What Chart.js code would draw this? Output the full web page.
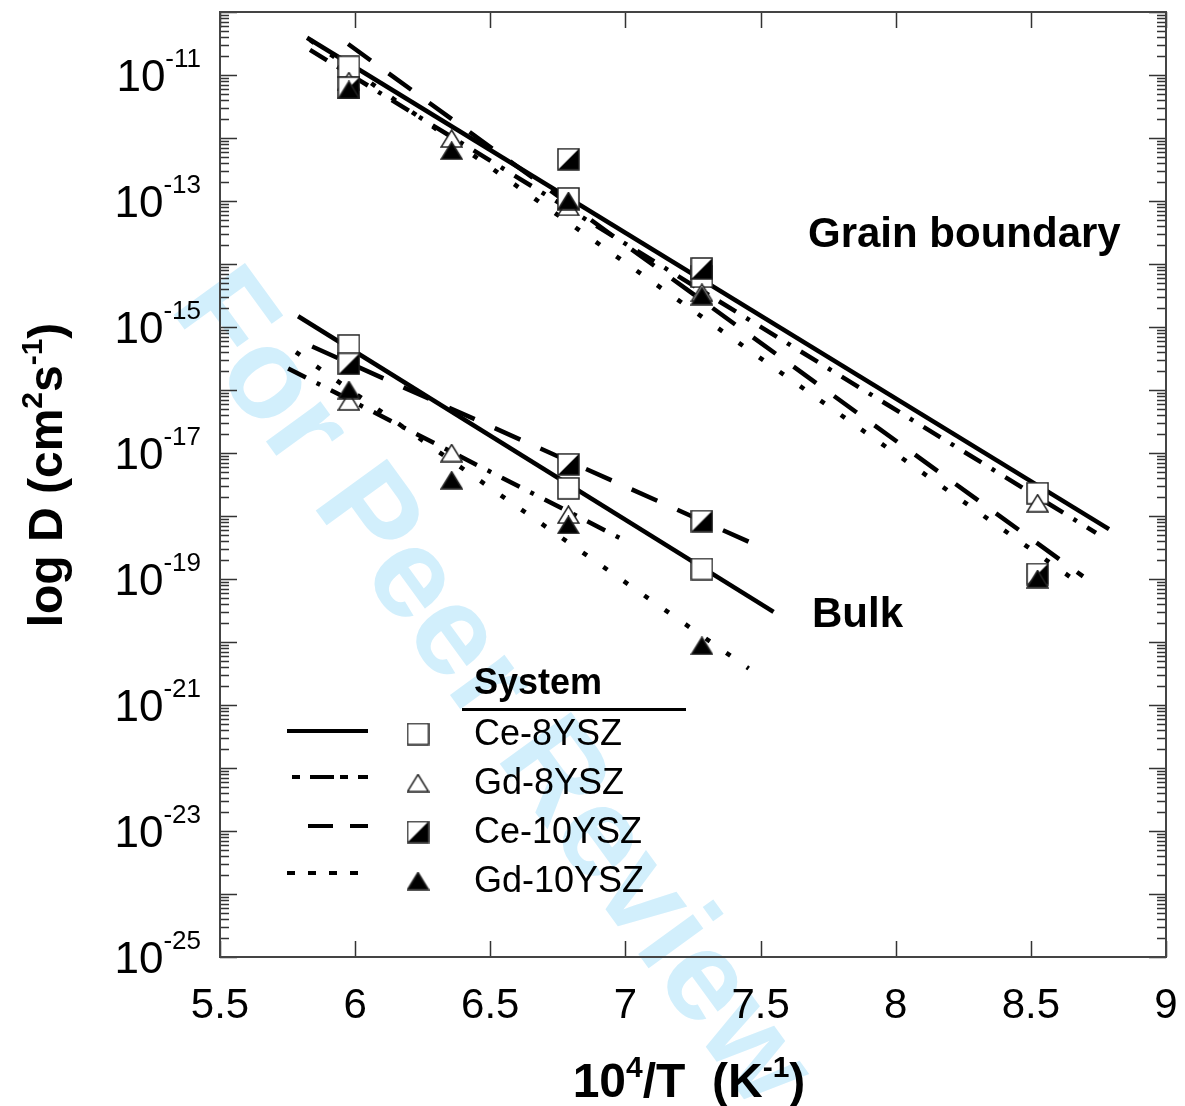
<!DOCTYPE html>
<html>
<head>
<meta charset="utf-8">
<script src="https://cdn.jsdelivr.net/npm/chart.js@4.4.1/dist/chart.umd.min.js"></script>
<style>
  html, body { margin: 0; padding: 0; background: #fff; }
  #wrap { width: 1185px; height: 1106px; }
</style>
</head>
<body>
<div id="wrap"><canvas id="diffChart" width="1185" height="1106"></canvas></div>
<script>
// 10^4/T of the annealing temperatures
const invT = [5.977, 6.357, 6.789, 7.283, 8.525];

// grain boundary diffusion coefficients, cm2/s (null = no point)
const gbCe8 = [1.35e-11, null, 1.1e-13, 6.3e-15, 2.3e-18];
const gbGd8 = [8e-12, 9.8e-13, 8.1e-14, 3.5e-15, 1.6e-18];
const gbCe10 = [6.3e-12, null, 4.6e-13, 8.5e-15, 1.2e-19];
const gbGd10 = [5.8e-12, 6.3e-13, 1.0e-13, 3.1e-15, 1.0e-19];

// bulk diffusion coefficients
const bulkCe8 = [5.1e-16, null, 2.75e-18, 1.44e-19, null];
const bulkGd8 = [6.6e-17, 1.0e-17, 1.05e-18, null, null];
const bulkCe10 = [2.6e-16, null, 6.6e-18, 8.3e-19, null];
const bulkGd10 = [1.0e-16, 3.7e-18, 7.2e-19, 8.7e-21, null];

// fitted lines (start / end)
const gbFitCe8X = [5.822, 8.789], gbFitCe8Y = [3.9e-11, 6.2e-19];
const gbFitGd8X = [5.833, 8.741], gbFitGd8Y = [2.5e-11, 5.4e-19];
const gbFitCe10X = [5.974, 8.693], gbFitCe10Y = [3.1e-11, 1.1e-19];
const gbFitGd10X = [5.833, 8.659], gbFitGd10Y = [3.6e-11, 9.8e-20];
const bulkFitCe8X = [5.789, 7.548], bulkFitCe8Y = [1.48e-15, 3.0e-20];
const bulkFitGd8X = [5.752, 7.007], bulkFitGd8Y = [2.2e-16, 3.9e-19];
const bulkFitCe10X = [5.841, 7.481], bulkFitCe10Y = [4.9e-16, 3.5e-19];
const bulkFitGd10X = [5.781, 7.456], bulkFitGd10Y = [4.0e-16, 3.8e-21];

const xTicks = [5.5, 6, 6.5, 7, 7.5, 8, 8.5, 9];
const yLabelExps = [-11, -13, -15, -17, -19, -21, -23, -25];

const seriesNames = ['Ce-8YSZ', 'Gd-8YSZ', 'Ce-10YSZ', 'Gd-10YSZ'];

const FONT = '"Liberation Sans", Arial, Helvetica, sans-serif';
const DASH = {
    solid: [],
    dashDot: [20, 12, 4, 12],
    dashed: [28, 22],
    dotted: [5, 20]
};

const pts = (xs, ys) => xs.map((x, i) => ({ x: x, y: ys[i] })).filter(p => p.y != null);

// marker images
function makeMarker(kind) {
    const c = document.createElement('canvas');
    c.width = 23;
    c.height = kind.indexOf('tri') === 0 ? 19 : 23;
    const g = c.getContext('2d');
    g.lineWidth = 1.5;
    g.strokeStyle = '#222';
    if (kind === 'square' || kind === 'half') {
        g.fillStyle = '#fff';
        g.fillRect(1, 1, 21, 21);
        if (kind === 'half') {
            g.fillStyle = '#000';
            g.beginPath();
            g.moveTo(22, 1);
            g.lineTo(22, 22);
            g.lineTo(1, 22);
            g.closePath();
            g.fill();
        }
        g.strokeRect(1, 1, 21, 21);
    } else {
        g.beginPath();
        g.moveTo(11.5, 1);
        g.lineTo(22, 18);
        g.lineTo(1, 18);
        g.closePath();
        g.fillStyle = kind === 'triFilled' ? '#000' : '#fff';
        g.fill();
        g.stroke();
    }
    return c;
}
const markers = [makeMarker('square'), makeMarker('triOpen'), makeMarker('half'), makeMarker('triFilled')];

function fitLine(xs, ys, dash) {
    return {
        type: 'line',
        data: pts(xs, ys),
        borderColor: '#000',
        borderWidth: 4.5,
        borderDash: dash,
        borderCapStyle: 'butt',
        pointRadius: 0,
        fill: false,
        tension: 0,
        order: 10
    };
}

function markerSet(i, gb, bulk) {
    return {
        type: 'scatter',
        label: seriesNames[i],
        data: pts(invT, gb).concat(pts(invT, bulk)),
        pointStyle: markers[i],
        pointRadius: 11,
        order: 4 - i
    };
}

// text with superscripts: parts = [[text, size, raise]]
function drawParts(ctx, parts, x, y, align, bold) {
    const w = parts.reduce((s, p) => {
        ctx.font = (bold ? 'bold ' : '') + p[1] + 'px ' + FONT;
        return s + ctx.measureText(p[0]).width;
    }, 0);
    let cx = align === 'right' ? x - w : align === 'center' ? x - w / 2 : x;
    ctx.textAlign = 'left';
    ctx.textBaseline = 'alphabetic';
    parts.forEach(p => {
        ctx.font = (bold ? 'bold ' : '') + p[1] + 'px ' + FONT;
        ctx.fillText(p[0], cx, y - p[2]);
        cx += ctx.measureText(p[0]).width;
    });
}

const watermark = {
    id: 'watermark',
    beforeDraw(chart) {
        const ctx = chart.ctx;
        ctx.save();
        ctx.translate(490, 690);
        ctx.rotate(54 * Math.PI / 180);
        ctx.font = 'bold 128px ' + FONT;
        ctx.fillStyle = 'rgb(210, 239, 252)';
        ctx.textAlign = 'center';
        ctx.textBaseline = 'middle';
        ctx.fillText('For Peer Review', 0, 0);
        ctx.restore();
    }
};

const axesDecor = {
    id: 'axesDecor',
    afterDraw(chart) {
        const ctx = chart.ctx;
        const a = chart.chartArea;
        const xs = chart.scales.x;
        const ys = chart.scales.y;
        ctx.save();

        // inward ticks on all four sides
        ctx.strokeStyle = '#333';
        ctx.lineWidth = 1.5;
        ctx.beginPath();
        xTicks.forEach(v => {
            const px = Math.round(xs.getPixelForValue(v)) + 0.5;
            ctx.moveTo(px, a.bottom); ctx.lineTo(px, a.bottom - 16);
            ctx.moveTo(px, a.top); ctx.lineTo(px, a.top + 16);
        });
        for (let e = -25; e < -10; e++) {
            for (let k = 1; k <= 9; k++) {
                const py = Math.round(ys.getPixelForValue(k * Math.pow(10, e))) + 0.5;
                const len = k === 1 ? 17 : 9;
                ctx.moveTo(a.left, py); ctx.lineTo(a.left + len, py);
                ctx.moveTo(a.right, py); ctx.lineTo(a.right - len, py);
            }
        }
        const pTop = Math.round(ys.getPixelForValue(1e-10)) + 0.5;
        ctx.moveTo(a.left, pTop); ctx.lineTo(a.left + 17, pTop);
        ctx.moveTo(a.right, pTop); ctx.lineTo(a.right - 17, pTop);
        ctx.stroke();

        // frame
        ctx.lineWidth = 2;
        ctx.strokeStyle = '#444';
        ctx.strokeRect(a.left, a.top, a.right - a.left, a.bottom - a.top);

        ctx.fillStyle = '#000';
        // x tick labels
        ctx.font = '42px ' + FONT;
        ctx.textAlign = 'center';
        ctx.textBaseline = 'alphabetic';
        xTicks.forEach(v => ctx.fillText(String(v), xs.getPixelForValue(v), 1018));

        // y tick labels 10^n
        yLabelExps.forEach(e => {
            const py = ys.getPixelForValue(Math.pow(10, e));
            drawParts(ctx, [['10', 44, 0], [String(e), 26, 24]], 201, py + 16, 'right', false);
        });

        // axis titles
        drawParts(ctx, [['10', 48, 0], ['4', 30, 20], ['/T  (K', 48, 0], ['-1', 30, 20], [')', 48, 0]], 689, 1097, 'center', true);
        ctx.save();
        ctx.translate(62, 475);
        ctx.rotate(-Math.PI / 2);
        drawParts(ctx, [['log D (cm', 48, 0], ['2', 30, 20], ['s', 48, 0], ['-1', 30, 20], [')', 48, 0]], 0, 0, 'center', true);
        ctx.restore();

        // region labels
        ctx.font = 'bold 42px ' + FONT;
        ctx.textAlign = 'left';
        ctx.textBaseline = 'middle';
        ctx.fillText('Grain boundary', 808, 235);
        ctx.fillText('Bulk', 812, 615);

        // legend block
        ctx.font = 'bold 36px ' + FONT;
        ctx.fillText('System', 474, 684);
        ctx.lineWidth = 3;
        ctx.strokeStyle = '#000';
        ctx.beginPath();
        ctx.moveTo(462, 709.5); ctx.lineTo(686, 709.5);
        ctx.stroke();

        const rowsY = [734, 783, 832, 881];
        const lineY = [731, 777, 826, 873];
        const legDash = [[], [8, 10, 24, 6], [25, 17], [8, 13]];
        const legStart = [287, 292, 308, 287];
        ctx.lineWidth = 4;
        ctx.font = '36px ' + FONT;
        seriesNames.forEach((name, i) => {
            ctx.setLineDash(legDash[i]);
            ctx.beginPath();
            ctx.moveTo(legStart[i], lineY[i]);
            ctx.lineTo(368, lineY[i]);
            ctx.stroke();
            ctx.setLineDash([]);
            const m = markers[i];
            ctx.drawImage(m, 418 - m.width / 2, rowsY[i] - m.height / 2);
            ctx.fillText(name, 474, rowsY[i] + 1);
        });
        ctx.restore();
    }
};

const datasets = [
    fitLine(gbFitCe8X, gbFitCe8Y, DASH.solid),
    fitLine(gbFitGd8X, gbFitGd8Y, DASH.dashDot),
    fitLine(gbFitCe10X, gbFitCe10Y, DASH.dashed),
    fitLine(gbFitGd10X, gbFitGd10Y, DASH.dotted),
    fitLine(bulkFitCe8X, bulkFitCe8Y, DASH.solid),
    fitLine(bulkFitGd8X, bulkFitGd8Y, DASH.dashDot),
    fitLine(bulkFitCe10X, bulkFitCe10Y, DASH.dashed),
    fitLine(bulkFitGd10X, bulkFitGd10Y, DASH.dotted),
    markerSet(0, gbCe8, bulkCe8),
    markerSet(1, gbGd8, bulkGd8),
    markerSet(2, gbCe10, bulkCe10),
    markerSet(3, gbGd10, bulkGd10)
];

new Chart(document.getElementById('diffChart'), {
    type: 'scatter',
    data: { datasets: datasets },
    options: {
        responsive: false,
        animation: false,
        layout: { padding: { left: 0, top: 10, right: 19, bottom: 0 } },
        plugins: { legend: { display: false }, tooltip: { enabled: false } },
        scales: {
            x: {
                type: 'linear', min: 5.5, max: 9,
                ticks: { display: false },
                grid: { display: false },
                border: { display: false },
                afterFit(scale) { scale.height = 149; }
            },
            y: {
                type: 'logarithmic', min: 1e-25, max: 1e-10,
                ticks: { display: false },
                grid: { display: false },
                border: { display: false },
                afterFit(scale) { scale.width = 220; }
            }
        }
    },
    plugins: [watermark, axesDecor]
});
</script>
</body>
</html>
